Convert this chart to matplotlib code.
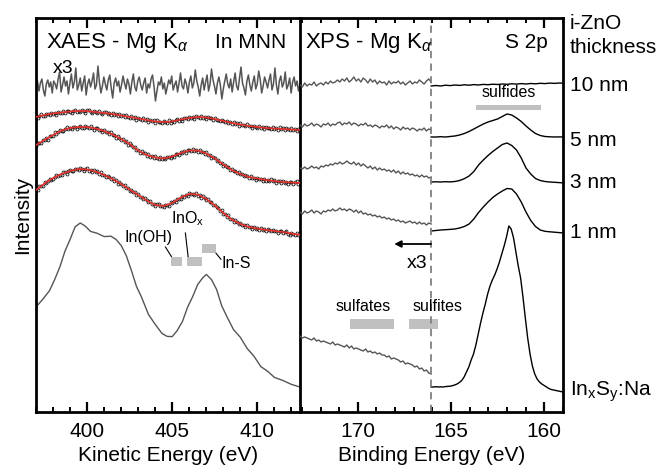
import numpy as np
import matplotlib
matplotlib.use("Agg")
import matplotlib.pyplot as plt
from matplotlib.patches import Rectangle
from matplotlib.ticker import MultipleLocator

# ---------------- XAES In MNN, kinetic energy (eV), stacked traces ----------------
ke_lim = (397.0, 412.5)

# 10 nm i-ZnO, scaled x3 (noisy)
xaes_10nm = [327, 331, 321, 329, 333, 322, 316, 328, 332, 325, 330, 319, 331, 328, 323,
             333, 340, 320, 327, 335, 326, 331, 318, 329, 338, 324, 330, 344, 322, 327,
             334, 321, 329, 336, 317, 328, 333, 325, 331, 339, 323, 327, 346, 330, 319,
             326, 335, 328, 322, 332, 337, 324, 314, 329, 334, 326, 331, 320, 327, 336,
             329, 323, 333, 328, 318, 330, 338, 325, 321, 331, 335, 327, 322, 329, 334,
             319, 328, 324, 333, 337, 326, 311, 321, 330, 327, 335, 323, 329, 318, 325,
             332, 328, 336, 322, 327, 331, 320, 329, 339, 326, 323, 333, 328, 319, 330,
             336, 324, 329, 342, 331, 325, 316, 327, 334, 322, 330, 337, 321, 328, 343,
             332, 326, 318, 329, 335, 327, 313, 323, 331, 338, 328, 324, 333, 320, 330,
             339, 326, 322, 334, 345, 329, 324, 317, 331, 337, 327, 321, 330, 336, 323,
             328, 341, 333, 319, 326, 335, 330, 324, 332, 338, 322, 328, 344, 327, 318,
             331, 336, 325, 329, 340, 323, 327, 334, 319, 330, 335, 326, 331, 321, 328]

# measured points, 0.1 eV steps from 397.0 to 412.4
ke_dots = (397.0, 412.4)
xaes_5nm = [295.8, 294.2, 296.1, 297.7, 296.0, 295.6, 298.2, 297.7, 297.0, 299.5, 298.2,
            299.3, 297.4, 300.2, 299.5, 298.8, 301.4, 298.9, 300.6, 301.5, 300.1, 299.3,
            301.4, 302.2, 300.1, 301.2, 299.9, 302.0, 301.4, 299.4, 301.6, 302.1, 300.1,
            299.2, 301.1, 300.3, 299.0, 301.1, 299.2, 297.9, 299.7, 299.9, 298.0, 298.6,
            296.8, 299.1, 297.2, 298.1, 296.0, 298.4, 296.2, 296.7, 294.7, 296.6, 295.4,
            294.1, 296.1, 293.8, 294.8, 292.3, 294.4, 293.4, 292.1, 293.9, 291.9, 292.6,
            290.5, 292.5, 290.9, 291.6, 289.2, 291.9, 289.8, 290.5, 289.1, 291.3, 290.2,
            289.4, 291.6, 289.4, 291.0, 289.8, 292.1, 292.9, 291.5, 292.7, 291.5, 294.1,
            293.8, 292.9, 295.5, 293.9, 295.1, 293.4, 295.7, 295.0, 294.0, 296.1, 294.2,
            295.0, 293.1, 295.3, 293.7, 294.2, 292.3, 294.4, 291.9, 292.5, 290.6, 292.3,
            291.2, 289.8, 291.5, 289.4, 290.2, 287.9, 289.7, 288.1, 288.6, 286.5, 288.7,
            286.6, 287.1, 285.7, 287.8, 285.6, 286.5, 284.4, 286.3, 285.3, 284.2, 286.1,
            284.1, 284.8, 282.8, 285.0, 283.7, 284.4, 282.6, 284.8, 282.9, 283.7, 282.3,
            284.6, 282.8, 283.8, 281.6, 283.7, 282.9, 281.8, 283.6, 282.0, 282.9, 281.0,
            282.9]
xaes_3nm = [265.6, 268.9, 269.1, 269.1, 272.3, 271.7, 273.6, 272.5, 276.1, 276.2, 276.3,
            279.6, 277.8, 280.2, 281.8, 281.0, 280.9, 283.4, 284.6, 282.8, 284.2, 283.1,
            285.4, 285.0, 283.2, 285.5, 286.3, 284.5, 283.8, 285.9, 285.3, 283.9, 285.9,
            283.9, 282.5, 284.1, 284.1, 281.9, 282.2, 280.1, 282.2, 279.9, 280.4, 277.9,
            279.8, 277.1, 277.1, 274.5, 275.8, 274.0, 272.1, 273.4, 270.4, 270.7, 267.5,
            268.8, 267.0, 264.7, 265.5, 262.5, 262.1, 259.4, 260.8, 258.6, 258.7, 255.9,
            258.0, 255.5, 255.8, 254.0, 255.7, 254.4, 253.4, 255.3, 252.8, 254.3, 252.8,
            254.9, 255.5, 254.3, 255.7, 254.9, 257.9, 258.0, 257.5, 260.4, 259.2, 260.7,
            259.3, 261.9, 261.6, 260.6, 262.8, 261.0, 261.9, 259.9, 262.1, 260.2, 260.3,
            258.1, 259.9, 256.8, 256.8, 254.3, 255.4, 253.6, 251.5, 252.4, 249.5, 249.5,
            246.4, 247.4, 245.0, 244.7, 241.8, 243.3, 240.6, 240.6, 238.7, 240.3, 237.6,
            238.1, 235.6, 237.1, 235.7, 234.3, 236.0, 233.9, 234.5, 232.4, 234.5, 233.0,
            233.5, 231.5, 233.5, 231.4, 232.1, 230.6, 232.8, 230.9, 231.8, 229.5, 231.5,
            230.6, 229.4, 231.1, 229.5, 230.4, 228.5, 230.4, 230.3, 228.2, 229.6, 230.7,
            228.5]
xaes_1nm = [222.6, 221.8, 225.7, 226.1, 226.5, 230.1, 228.6, 231.2, 233.0, 232.5, 232.7,
            235.5, 237.0, 235.6, 237.4, 236.8, 239.6, 239.6, 238.2, 241.0, 242.3, 240.9,
            240.6, 243.1, 242.9, 242.0, 244.5, 242.7, 241.5, 243.4, 243.6, 241.5, 241.9,
            239.9, 242.1, 240.0, 240.6, 238.1, 240.0, 237.4, 237.5, 235.0, 236.4, 234.7,
            232.9, 234.3, 231.4, 231.7, 228.5, 229.9, 228.2, 226.1, 227.1, 224.3, 224.2,
            221.3, 222.4, 220.1, 220.0, 216.8, 218.5, 215.4, 215.1, 212.7, 213.8, 211.7,
            209.9, 211.1, 207.9, 208.4, 205.9, 207.6, 207.8, 205.8, 206.4, 205.0, 207.4,
            207.2, 206.4, 209.6, 208.7, 210.8, 210.0, 213.2, 213.5, 213.4, 216.5, 215.4,
            217.0, 215.9, 219.1, 217.7, 218.4, 216.7, 219.0, 216.4, 216.9, 214.5, 215.7,
            214.1, 212.2, 213.0, 210.0, 209.9, 206.7, 207.4, 204.7, 204.0, 200.7, 201.7,
            198.4, 197.9, 195.5, 196.6, 193.4, 193.4, 190.4, 191.6, 189.9, 188.1, 189.3,
            186.9, 187.2, 184.8, 186.6, 185.0, 185.3, 183.3, 185.3, 183.2, 183.8, 182.2,
            184.3, 182.3, 183.1, 180.7, 182.7, 181.8, 180.6, 182.3, 180.6, 181.4, 179.4,
            181.2, 181.0, 178.8, 180.0, 180.9, 178.5, 177.4, 179.4, 178.3, 177.0, 178.9,
            177.0]

# fits, 0.5 eV steps from 397.0 to 412.5
ke_fit = (397.0, 412.5)
fit_5nm = [295, 297, 298.5, 299.5, 300.5, 301, 301, 300, 299, 298, 296.5, 295, 293.5, 292,
           290.5, 290, 290.5, 292.5, 294, 295, 294.5, 293, 291, 289, 287.5, 286, 285, 284,
           283.5, 283, 282.5, 282]
fit_3nm = [267, 272, 277, 281.5, 284, 285, 285, 283.5, 281, 277.5, 273, 268, 261.5, 257,
           254.5, 253.5, 255.5, 259, 261.5, 261.5, 258.5, 253.5, 247.5, 242, 238, 235,
           233.5, 232, 231, 230, 229.5, 229]
fit_1nm = [222, 228.5, 234, 238, 241, 243, 242.5, 240.5, 237, 233, 228, 222.5, 217, 211.5,
           207, 206, 209, 214.5, 218, 217.5, 213, 206.5, 199, 192.5, 188, 185, 183.5, 182,
           181, 180, 178.5, 177]

# InxSy:Na reference
ke_ref = [397.0, 397.4, 397.8, 398.1, 398.4, 398.7, 399.0, 399.3, 399.6, 399.9, 400.2,
          400.6, 401.0, 401.4, 401.7, 402.0, 402.3, 402.6, 402.9, 403.2, 403.6, 404.0,
          404.4, 404.7, 405.0, 405.3, 405.6, 405.9, 406.2, 406.5, 406.8, 407.0, 407.3,
          407.6, 407.9, 408.2, 408.6, 409.0, 409.4, 409.8, 410.2, 410.6, 411.0, 411.5,
          412.0, 412.5]
xaes_ref = [105, 112.8, 121.5, 132.6, 145, 160.8, 172.5, 185.3, 189, 185.8, 180.6, 178.7,
            175.4, 175.8, 172.6, 166.5, 156.4, 141.6, 125.5, 114.7, 97.6, 87.6, 78.5,
            75.6, 75.4, 81.7, 90.6, 104.8, 115.4, 127.7, 134.4, 137.6, 132.5, 122.7,
            106.4, 95.6, 82.3, 74.6, 63.5, 55.7, 45.4, 40.7, 34.6, 31.5, 27.6, 25]

# chemical states (kinetic energy band, bottom/top)
state_labels = ["In(OH)", "InO$_\\mathrm{x}$", "In-S"]
state_ke = [(404.95, 405.6), (405.87, 406.75), (406.75, 407.58)]
state_y = [(146, 155), (146, 155), (159, 168)]

# ---------------- XPS S 2p, binding energy (eV) ----------------
be_split = 166.07
be_lo = (173.1, be_split)     # x3 part
be_hi = (be_split, 158.95)

xps_10nm_x3 = [327, 325, 329, 326, 328, 327, 330, 326, 328, 329, 327, 330, 328, 331, 329,
               330, 332, 330, 333, 331, 334, 330, 332, 335, 331, 333, 330, 334, 332, 329,
               333, 330, 332, 328, 331, 329, 330, 327, 331, 328, 330, 329, 331, 328, 330,
               327, 329, 331, 328, 330, 329, 332, 330, 328, 331, 333, 330]
xps_5nm_x3 = [287, 285, 288, 286, 287, 289, 286, 288, 287, 285, 288, 287, 289, 286, 288,
              287, 289, 290, 287, 289, 288, 290, 287, 289, 288, 286, 288, 287, 289, 286,
              287, 285, 287, 286, 284, 286, 285, 287, 284, 286, 283, 285, 284, 282, 285,
              283, 284, 282, 284, 283, 281, 283, 282, 284, 281, 283, 282]
xps_3nm_x3 = [244, 243, 245, 243, 244, 246, 244, 245, 243, 246, 245, 247, 246, 248, 247,
              249, 248, 250, 248, 249, 251, 249, 248, 250, 247, 249, 246, 248, 246, 244,
              246, 243, 245, 242, 244, 242, 243, 241, 242, 240, 242, 239, 241, 238, 240,
              238, 239, 237, 238, 236, 237, 235, 237, 235, 236, 234, 235]
xps_1nm_x3 = [200, 198, 201, 199, 200, 202, 199, 201, 200, 198, 201, 200, 202, 201, 203,
              201, 202, 204, 202, 203, 201, 203, 202, 200, 202, 199, 201, 198, 199, 197,
              198, 196, 197, 195, 196, 194, 195, 193, 194, 192, 193, 191, 192, 190, 191,
              189, 190, 191, 189, 190, 188, 190, 188, 189, 187, 189, 188]
xps_ref_x3 = [76, 74, 75, 74, 73, 72, 74, 71, 72, 70, 71, 70, 69, 68, 70, 67, 68, 67, 66,
              65, 67, 64, 66, 63, 64, 63, 62, 61, 63, 60, 61, 59, 60, 58, 59, 57, 57, 55,
              56, 53, 54, 53, 52, 50, 51, 48, 49, 48, 47, 45, 46, 43, 44, 41, 42, 39, 38]

xps_10nm = [326, 326.5, 326, 326.8, 326.4, 327, 326.6, 327.2, 326.8, 327.4, 327, 327.6,
            327.3, 327.8, 327.5, 328, 327.7, 328.2, 327.9, 328.4, 328, 328.5, 328.2, 328.7,
            328.4, 328.9, 328.6, 329, 328.8]
xps_5nm = [275, 275, 275.3, 275, 275.5, 276, 277, 278.5, 280.5, 283, 285.5, 288, 290,
           291.5, 293, 295.5, 298, 297, 294, 290.5, 286, 282, 278.5, 276.5, 275.5, 275.2,
           275, 275.1, 275]
xps_3nm = [230, 230.2, 230, 230.3, 230.1, 230.5, 231.5, 233.3, 236, 240.5, 247, 252,
           256.5, 260.5, 264, 267.5, 269, 266.5, 262, 254, 244, 238, 233.5, 231.5, 230.5,
           230, 229.7, 229.4, 229]
xps_1nm = [181, 181.5, 182, 182.3, 182.6, 183, 184, 185.5, 188, 193, 199.5, 205, 210,
           214.5, 218, 221, 223.5, 223, 218, 210, 200, 191.5, 185.5, 182, 180.7, 180.2,
           179.8, 179.4, 179]
xps_ref = [25, 25, 25.3, 25, 25.2, 25, 25.4, 25.6, 25.8, 26.3, 27, 28, 29.5, 31.5, 35, 40,
           45, 52, 58, 67, 78, 89, 99, 108, 118, 126, 132, 137, 143, 150, 158, 166, 175,
           186, 183, 174, 160, 146, 134, 115, 94, 74, 58, 46, 38, 33, 30, 28, 26.5, 25,
           23.5, 22.5, 22, 21.5, 21, 20.5, 20]

# sulfur species (binding energy band, bottom/top, label centre)
species_labels = ["sulfates", "sulfites", "sulfides"]
species_be = [(170.41, 168.05), (167.24, 165.69), (163.65, 160.17)]
species_y = [(83, 93), (83, 93), (302, 307)]
species_text_be = [169.7, 165.75, 161.93]

thickness_labels = ["10 nm", "5 nm", "3 nm", "1 nm", "In$_\\mathrm{x}$S$_\\mathrm{y}$:Na"]
thickness_y = [327, 272, 230, 180, 20]

plt.rcParams.update({
    "font.family": ["Liberation Sans", "DejaVu Sans"],
    "font.size": 15,
    "mathtext.fontset": "custom",
    "mathtext.rm": "Liberation Sans",
    "mathtext.it": "Liberation Sans:italic",
    "axes.linewidth": 2.0,
})

GRAY = "#555555"
BAND = "#c0c0c0"

fig = plt.figure(figsize=(6.61, 4.68), dpi=100)
ax1 = fig.add_axes([36 / 661, 56 / 468, 264 / 661, 394 / 468])
ax2 = fig.add_axes([300 / 661, 56 / 468, 263 / 661, 394 / 468])
ax2.patch.set_visible(False)

for ax in (ax1, ax2):
    ax.set_ylim(0, 394)
    ax.set_yticks([])
    ax.xaxis.set_major_locator(MultipleLocator(5))
    ax.xaxis.set_minor_locator(MultipleLocator(1))
    ax.tick_params(axis="x", which="both", direction="in", top=True, pad=7,
                   labelsize=15)
    ax.tick_params(axis="x", which="major", length=7, width=1.6)
    ax.tick_params(axis="x", which="minor", length=3.5, width=1.4)

# ---- left panel: In MNN ----
ax1.set_xlim(*ke_lim)
ax1.plot(np.linspace(*ke_lim, len(xaes_10nm)), xaes_10nm, color=GRAY, lw=1.1)
for dots, fit in ((xaes_5nm, fit_5nm), (xaes_3nm, fit_3nm), (xaes_1nm, fit_1nm)):
    ax1.plot(np.linspace(*ke_dots, len(dots)), dots, ls="none", marker="o", ms=2.1,
             mfc="none", mec="#1a1a1a", mew=0.6)
    ax1.plot(np.linspace(*ke_fit, len(fit)), fit, color="#e8302c", lw=1.2, zorder=3)
ax1.plot(ke_ref, xaes_ref, color=GRAY, lw=1.0)

for (k0, k1), (y0, y1) in zip(state_ke, state_y):
    ax1.add_patch(Rectangle((k0, y0), k1 - k0, y1 - y0, color=BAND, lw=0))
ax1.text(403.6, 175, state_labels[0], fontsize=11.5, ha="center", va="center")
ax1.text(404.95, 193, state_labels[1], fontsize=11.5, ha="left", va="center")
ax1.text(407.9, 149, state_labels[2], fontsize=11.5, ha="left", va="center")
ax1.plot([404.6, 404.95], [165, 155.5], color="k", lw=0.8)
ax1.plot([405.77, 405.93], [179, 155.5], color="k", lw=0.8)
ax1.plot([407.57, 407.86], [158.7, 152.7], color="k", lw=0.8)

ax1.text(398.0, 344, "x3", fontsize=14, ha="left", va="center")
ax1.text(0.038, 0.937, "XAES - Mg K$_\\alpha$", transform=ax1.transAxes,
         ha="left", va="center", fontsize=16)
ax1.text(0.947, 0.937, "In MNN", transform=ax1.transAxes, ha="right", va="center")
ax1.set_xlabel("Kinetic Energy (eV)", labelpad=4)
ax1.set_ylabel("Intensity")
ax1.yaxis.set_label_coords(-0.015, 0.5)

# ---- right panel: S 2p ----
ax2.set_xlim(173.1, 159.0)
ax2.spines["left"].set_visible(False)
lo_traces = (xps_10nm_x3, xps_5nm_x3, xps_3nm_x3, xps_1nm_x3, xps_ref_x3)
hi_traces = (xps_10nm, xps_5nm, xps_3nm, xps_1nm)
for tr in lo_traces:
    ax2.plot(np.linspace(*be_lo, len(tr)), tr, color=GRAY, lw=1.0)
for tr in hi_traces:
    ax2.plot(np.linspace(*be_hi, len(tr)), tr, color="k", lw=1.0)
ax2.plot(np.linspace(be_split, 159.0, len(xps_ref)), xps_ref, color="k", lw=1.0)
ax2.axvline(be_split, color="#808080", lw=1.3, ls=(0, (4, 3)))

for (b0, b1), (y0, y1), name, bx in zip(species_be, species_y, species_labels,
                                        species_text_be):
    ax2.add_patch(Rectangle((b1, y0), b0 - b1, y1 - y0, color=BAND, lw=0))
    ax2.text(bx, y1 + 5, name, fontsize=11.5, ha="center", va="bottom")

ax2.annotate("", xy=(168.05, 168), xytext=(be_split, 168),
             arrowprops=dict(arrowstyle="-|>", color="k", lw=1.3,
                             mutation_scale=10, shrinkA=0, shrinkB=0))
ax2.text(166.27, 149, "x3", fontsize=14, ha="right", va="center")

ax2.text(0.019, 0.937, "XPS - Mg K$_\\alpha$", transform=ax2.transAxes,
         ha="left", va="center", fontsize=16)
ax2.text(0.943, 0.937, "S 2p", transform=ax2.transAxes, ha="right", va="center")
ax2.set_xlabel("Binding Energy (eV)", labelpad=4)

side = ax2.get_yaxis_transform()
ax2.text(1.027, 389, "i-ZnO", transform=side, ha="left", va="center", clip_on=False)
ax2.text(1.027, 365, "thickness", transform=side, ha="left", va="center",
         clip_on=False)
for name, y in zip(thickness_labels, thickness_y):
    ax2.text(1.027, y, name, transform=side, ha="left", va="center", clip_on=False)

fig.savefig("out.png", dpi=100)
